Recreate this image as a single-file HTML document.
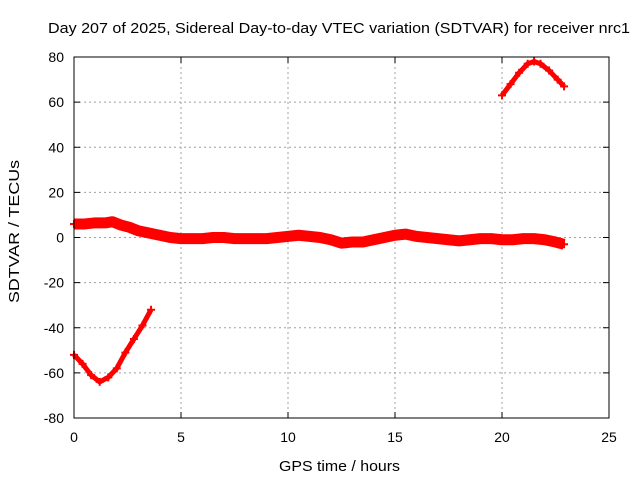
<!DOCTYPE html>
<html><head><meta charset="utf-8"><style>
body{margin:0;background:#fff}
svg{display:block;font-family:"Liberation Sans",sans-serif}
</style></head><body>
<svg id="chart" width="640" height="480" xmlns="http://www.w3.org/2000/svg">
<rect width="640" height="480" fill="#fff"/>
<text x="48" y="33" font-size="15" textLength="582" lengthAdjust="spacingAndGlyphs">Day 207 of 2025, Sidereal Day-to-day VTEC variation (SDTVAR) for receiver nrc1</text>
<text x="279" y="471" font-size="15" textLength="121" lengthAdjust="spacingAndGlyphs">GPS time / hours</text>
<text x="0" y="0" font-size="15" textLength="143" lengthAdjust="spacingAndGlyphs" transform="translate(19 303) rotate(-90)">SDTVAR / TECUs</text>
<g id="grid"></g><g id="ticks"></g><g id="series"></g>
<rect x="74" y="57" width="535" height="361" fill="none" stroke="#000" stroke-width="1"/>
</svg>
<script>
const xTicks=[0,5,10,15,20,25];
const yTicks=[-80,-60,-40,-20,0,20,40,60,80];
const mainHours=[0,0.5,1,1.5,1.8,2.2,2.6,3,3.5,4,4.5,5,5.5,6,6.5,7,7.5,8,8.5,9,9.5,10,10.5,11,11.5,12,12.5,13,13.5,14,14.5,15,15.5,16,16.5,17,17.5,18,18.5,19,19.5,20,20.5,21,21.5,22,22.5,22.9];
const mainValues=[6,6,6.5,6.5,7,5.5,4.5,3,2,1,0,-0.5,-0.5,-0.5,0,0,-0.5,-0.5,-0.5,-0.5,0,0.5,1,0.5,0,-1,-2.5,-2,-2,-1,0,1,1.5,0.5,0,-0.5,-1,-1.5,-1,-0.5,-0.5,-1,-1,-0.5,-0.5,-1,-2,-3];
const negHours=[0,0.4,0.8,1.2,1.6,2,2.4,2.8,3.2,3.6];
const negValues=[-52,-56,-61,-64,-62,-58,-51,-45,-39,-32];
const posHours=[20,20.4,20.8,21.2,21.5,21.8,22.2,22.6,22.9];
const posValues=[63,68,73,77,78,77,74,70,67];
const X=h=>74+h*535/25, Y=v=>237.5-v*361/160;
const NS='http://www.w3.org/2000/svg';
function mk(t,a,p){const e=document.createElementNS(NS,t);for(const k in a)e.setAttribute(k,a[k]);p.appendChild(e);return e;}
const grid=document.getElementById('grid'),ticks=document.getElementById('ticks'),ser=document.getElementById('series');
xTicks.forEach(t=>{const x=X(t);
 if(t>0&&t<25){const g=mk('line',{x1:x,x2:x,y1:57,y2:418,stroke:'#a0a0a0','stroke-dasharray':'2,3'},grid);
 
 }
 mk('line',{x1:x,x2:x,y1:418,y2:412,stroke:'#000'},ticks);mk('line',{x1:x,x2:x,y1:57,y2:63,stroke:'#000'},ticks);
 const l=mk('text',{x:x,y:442,'font-size':14,'text-anchor':'middle'},ticks);l.textContent=t;
 
 });
yTicks.forEach(t=>{const y=Y(t);
 if(t>-80&&t<80){const g=mk('line',{x1:74,x2:609,y1:y,y2:y,stroke:'#a0a0a0','stroke-dasharray':'2,3'},grid);
 
 }
 mk('line',{x1:74,x2:80,y1:y,y2:y,stroke:'#000'},ticks);mk('line',{x1:609,x2:603,y1:y,y2:y,stroke:'#000'},ticks);
 const l=mk('text',{x:64,y:y+5,'font-size':14,'text-anchor':'end'},ticks);l.textContent=t;
 
 });
function draw(hs,vs,name,w){
 const pts=hs.map((h,i)=>X(h)+','+Y(vs[i])).join(' ');
 const p=mk('polyline',{points:pts,fill:'none',stroke:'#f00','stroke-width':w,'stroke-linejoin':'round','stroke-linecap':'butt'},ser);
 
 
 hs.forEach((h,i)=>{const x=X(h),y=Y(vs[i]);
  const m=mk('path',{d:`M${x-4},${y}h8M${x},${y-4}v8`,stroke:'#f00','stroke-width':2},ser);
  
  });
}
draw(mainHours,mainValues,'main-series',11);
draw(negHours,negValues,'negative-arc-series',5);
draw(posHours,posValues,'positive-arc-series',5);
</script>
</body></html>
